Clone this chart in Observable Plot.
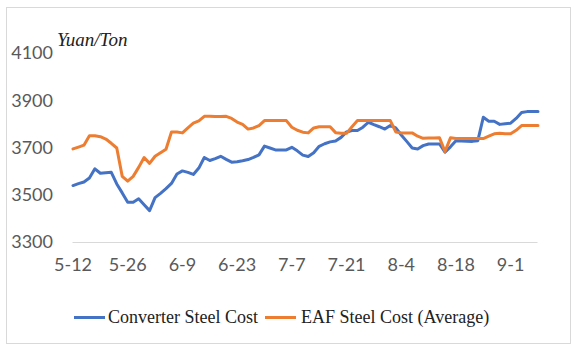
<!DOCTYPE html>
<html><head><meta charset="utf-8">
<script src="https://cdn.jsdelivr.net/npm/d3@7"></script>
<script src="https://cdn.jsdelivr.net/npm/@observablehq/plot@0.6"></script>
<style>
body{margin:0;background:#fff;}
#wrap{position:relative;width:577px;height:350px;overflow:hidden;background:#fff;}
#frame{position:absolute;left:6px;top:7px;width:565px;height:337px;border:1px solid #d9d9d9;box-sizing:border-box;}
#chart{position:absolute;left:0;top:0;}
#unit{position:absolute;left:57px;top:29px;font:italic 19px "Liberation Serif",serif;color:#222;white-space:nowrap;}
.lg{position:absolute;top:307px;font:18px "Liberation Serif",serif;color:#222;white-space:nowrap;}
.sw{position:absolute;top:316px;height:3px;}
</style>
</head><body>
<div id="wrap">
  <div id="frame"></div>
  <div id="chart"></div>
  <div id="unit"></div>
  <div class="sw" id="sw0" style="left:74px;width:31px;"></div>
  <div class="lg" id="lg0" style="left:108px;"></div>
  <div class="sw" id="sw1" style="left:265px;width:31px;"></div>
  <div class="lg" id="lg1" style="left:301px;"></div>
</div>
<script>
const unitLabel = "Yuan/Ton";
const seriesNames = ["Converter Steel Cost", "EAF Steel Cost (Average)"];
const seriesColors = ["#4472C4", "#ED7D31"];
const xTickLabels = ["5-12","5-26","6-9","6-23","7-7","7-21","8-4","8-18","9-1"];
const yTicks = [3300, 3500, 3700, 3900, 4100];

const converter = [
  3541,3549,3556,3573,3612,3593,3595,3597,3548,3510,
  3470,3470,3485,3460,3435,3490,3508,3528,3550,3590,
  3603,3597,3588,3615,3660,3647,3655,3665,3652,3640,
  3642,3646,3651,3660,3671,3708,3700,3692,3692,3692,
  3703,3688,3670,3664,3680,3707,3718,3726,3730,3745,
  3768,3774,3774,3788,3809,3799,3790,3780,3795,3785,
  3755,3728,3700,3696,3710,3717,3717,3717,3682,3705,
  3731,3730,3729,3728,3731,3830,3813,3813,3800,3803,
  3805,3825,3850,3854,3854,3854
];
const eaf = [
  3696,3704,3712,3752,3752,3748,3738,3720,3700,3580,
  3560,3580,3618,3660,3635,3665,3680,3695,3768,3768,
  3764,3785,3805,3815,3834,3834,3833,3833,3834,3825,
  3810,3800,3780,3785,3795,3816,3816,3816,3816,3816,
  3788,3775,3767,3764,3785,3790,3790,3790,3765,3762,
  3762,3790,3816,3816,3816,3816,3816,3816,3816,3768,
  3764,3764,3764,3750,3741,3742,3742,3743,3685,3743,
  3740,3740,3740,3740,3740,3740,3750,3760,3762,3760,
  3760,3775,3795,3795,3795,3795
];

const rows = [];
converter.forEach((v, i) => rows.push({i, v, s: seriesNames[0]}));
eaf.forEach((v, i) => rows.push({i, v, s: seriesNames[1]}));

const plot = Plot.plot({
  width: 577,
  height: 350,
  marginLeft: 72.5,
  marginRight: 39.5,
  marginTop: 53,
  marginBottom: 108,
  style: {background: "transparent", fontFamily: "Lato, sans-serif", fontSize: "18px", color: "#595959"},
  x: {domain: [0, converter.length - 1], ticks: xTickLabels.map((_, k) => k * 10),
      tickFormat: d => xTickLabels[d / 10], tickSize: 0, tickPadding: 16, label: null},
  y: {domain: [3300, 4100], ticks: yTicks, tickFormat: d => String(d), tickSize: 0, tickPadding: 20, label: null},
  color: {domain: seriesNames, range: seriesColors},
  marks: [
    Plot.ruleY([3300], {stroke: "#d9d9d9", strokeWidth: 1}),
    Plot.line(rows, {x: "i", y: "v", z: "s", stroke: "s", strokeWidth: 3, strokeLinejoin: "round", strokeLinecap: "round"})
  ]
});
document.getElementById("chart").appendChild(plot);
document.getElementById("unit").textContent = unitLabel;
seriesNames.forEach((n, k) => {
  document.getElementById("lg" + k).textContent = n;
  document.getElementById("sw" + k).style.background = seriesColors[k];
});
</script>
</body></html>
